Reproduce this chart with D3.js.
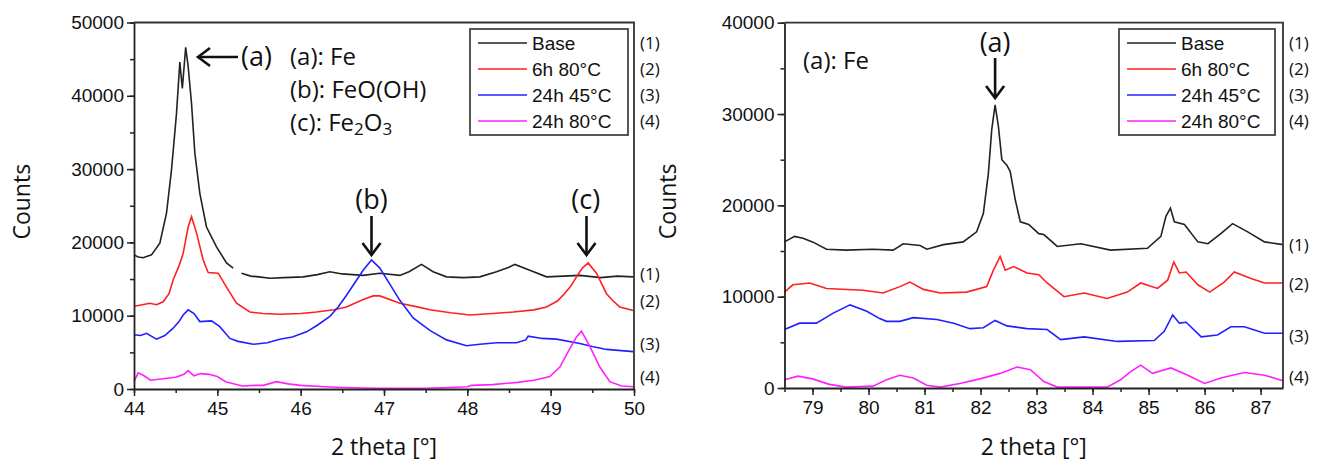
<!DOCTYPE html>
<html>
<head>
<meta charset="utf-8">
<script src="https://cdn.jsdelivr.net/npm/d3@7"></script>
<style>
  body { margin: 0; background: #fff; }
  svg { display: block; }
  .tick text { font-family: "Liberation Sans", Arial, sans-serif; font-size: 19px; fill: #111; }
  .lbl { font-family: "Open Sans", sans-serif; fill: #111; }
</style>
</head>
<body>
<svg id="chart" width="1320" height="462"></svg>
<script>
// ---- data: [2 theta, counts] ----
// left panel 44-50
var baseLeft = [[44.0,18300],[44.05,18000],[44.11,17900],[44.21,18300],[44.31,19900],[44.39,24000],[44.45,29900],[44.51,37600],[44.55,44600],
  [44.58,41000],[44.62,46600],[44.65,44000],[44.69,39000],[44.73,32200],[44.79,26700],[44.87,22100],[44.99,19400],[45.11,17200],[45.19,16500],
  null,[45.29,15800],[45.4,15400],[45.5,15300],[45.63,15100],[45.8,15200],[46.03,15300],[46.2,15600],[46.35,16000],[46.5,15700],[46.75,15500],
  [46.95,15800],[47.19,15500],[47.3,16000],[47.45,17000],[47.59,16000],[47.75,15300],[47.95,15200],[48.15,15300],[48.35,16000],[48.5,16600],
  [48.57,17000],[48.75,16200],[48.95,15300],[49.15,15400],[49.35,15500],[49.6,15200],[49.8,15400],[49.99,15300]];
var h6Left = [[44.0,11300],[44.1,11500],[44.19,11700],[44.27,11500],[44.35,11900],[44.42,13000],[44.47,14900],[44.54,16800],[44.59,18500],
  [44.65,22100],[44.69,23500],[44.75,21300],[44.83,17600],[44.89,15900],[45.01,15800],[45.11,13900],[45.23,11700],[45.39,10500],[45.55,10300],
  [45.75,10200],[46.0,10300],[46.19,10500],[46.4,10800],[46.55,11200],[46.75,12200],[46.87,12700],[46.95,12700],[47.19,11700],[47.4,11200],
  [47.55,10800],[47.8,10400],[48.03,10100],[48.3,10300],[48.55,10500],[48.8,10800],[48.95,11200],[49.08,12000],[49.15,12800],[49.24,14000],
  [49.31,15300],[49.38,16500],[49.45,17200],[49.55,15800],[49.67,13000],[49.75,12000],[49.83,11200],[49.99,10700]];
var h24t45Left = [[44.0,7400],[44.08,7300],[44.15,7600],[44.27,6800],[44.37,7300],[44.47,8300],[44.54,9200],[44.59,10100],[44.65,10800],
  [44.72,10300],[44.79,9200],[44.93,9300],[45.03,8500],[45.15,6900],[45.25,6500],[45.43,6100],[45.6,6300],[45.75,6800],[45.9,7100],
  [46.07,7800],[46.2,8700],[46.35,9900],[46.45,11200],[46.55,12800],[46.65,14500],[46.75,16200],[46.85,17600],[46.95,16500],[47.07,14300],
  [47.19,12100],[47.35,9700],[47.55,8000],[47.75,6700],[47.99,5900],[48.15,6100],[48.35,6300],[48.59,6300],[48.7,6700],[48.73,7200],
  [48.9,6900],[49.07,6800],[49.35,6200],[49.5,5800],[49.67,5400],[49.99,5100]];
var h24t80Left = [[44.0,1000],[44.05,2200],[44.12,1800],[44.2,1200],[44.35,1400],[44.5,1600],[44.6,2000],[44.65,2500],[44.72,1800],
  [44.8,2100],[44.9,2000],[45.0,1700],[45.1,1000],[45.3,400],[45.45,500],[45.55,500],[45.71,1000],[45.85,700],[46.0,500],[46.3,300],
  [46.5,200],[46.9,100],[47.2,100],[47.5,100],[47.8,200],[48.0,300],[48.05,500],[48.3,600],[48.6,900],[48.8,1200],[48.99,1700],
  [49.11,3000],[49.21,5100],[49.31,7100],[49.37,7900],[49.47,5800],[49.59,3000],[49.71,1000],[49.85,400],[50.0,300]];

// right panel 78.5-87.4
var baseRight = [[78.5,16000],[78.68,16600],[78.83,16400],[79.0,16000],[79.25,15200],[79.6,15100],[80.08,15200],[80.44,15100],[80.62,15800],
  [80.92,15600],[81.04,15200],[81.34,15700],[81.69,16000],[81.93,17100],[82.05,19100],[82.14,23500],[82.2,28300],[82.26,31000],[82.32,28600],
  [82.38,25000],[82.47,24400],[82.53,23700],[82.62,20600],[82.71,18200],[82.86,17900],[83.04,16900],[83.13,16800],[83.37,15500],[83.79,15800],
  [84.32,15100],[84.98,15300],[85.22,16600],[85.31,18800],[85.39,19700],[85.46,18200],[85.64,17900],[85.88,16000],[86.06,15800],[86.29,16900],
  [86.5,18000],[86.77,17100],[87.07,16000],[87.4,15700]];
var h6Right = [[78.5,10500],[78.65,11300],[78.95,11500],[79.25,10900],[79.9,10700],[80.26,10400],[80.56,11100],[80.74,11600],[80.98,10800],
  [81.28,10400],[81.75,10500],[82.11,11100],[82.23,12900],[82.35,14400],[82.44,12900],[82.59,13300],[82.83,12600],[83.04,12400],[83.19,11500],
  [83.49,10000],[83.85,10400],[84.26,9800],[84.62,10500],[84.86,11500],[85.16,10900],[85.34,11800],[85.45,13800],[85.55,12600],[85.67,12700],
  [85.88,11300],[86.09,10500],[86.35,11600],[86.53,12700],[86.83,12000],[87.07,11500],[87.4,11500]];
var h24t45Right = [[78.5,6400],[78.77,7100],[79.07,7100],[79.37,8200],[79.67,9100],[79.97,8400],[80.2,7600],[80.32,7300],[80.56,7300],
  [80.8,7700],[81.22,7500],[81.52,7100],[81.81,6500],[82.05,6600],[82.26,7400],[82.47,6800],[82.83,6500],[83.19,6400],[83.43,5300],
  [83.85,5600],[84.44,5100],[85.1,5200],[85.28,6200],[85.43,8000],[85.55,7100],[85.67,7200],[85.94,5600],[86.23,5800],[86.47,6700],
  [86.71,6700],[87.07,6000],[87.4,6000]];
var h24t80Right = [[78.5,900],[78.74,1300],[79.0,1000],[79.3,400],[79.6,100],[80.08,200],[80.32,900],[80.56,1400],[80.8,1100],[81.04,300],
  [81.28,100],[81.63,500],[81.99,1000],[82.35,1600],[82.65,2300],[82.89,2000],[83.13,700],[83.37,100],[83.79,100],[84.26,100],[84.5,900],
  [84.68,1800],[84.86,2500],[85.07,1600],[85.4,2200],[85.7,1400],[86.0,500],[86.29,1100],[86.71,1700],[87.07,1400],[87.4,800]];

var seriesNames = ["Base", "6h 80°C", "24h 45°C", "24h 80°C"];
var seriesColors = ["#222222", "#ff2020", "#2020ff", "#ff20ff"];
var curveNums = ["(1)", "(2)", "(3)", "(4)"];

var svg = d3.select("#chart");

function drawPanel(p) {
    var g = svg.append("g");
    var x = d3.scaleLinear().domain(p.xDomain).range([p.left, p.right]);
    var y = d3.scaleLinear().domain(p.yDomain).range([p.bottom, p.top]);

    // curves
    var line = d3.line()
        .defined(function(d) { return d != null; })
        .x(function(d) { return x(d[0]); })
        .y(function(d) { return y(d[1]); });
    p.series.forEach(function(s, i) {
        g.append("path").datum(s)
            .attr("d", line)
            .attr("fill", "none")
            .attr("stroke", seriesColors[i])
            .attr("stroke-width", 1.6);
    });

    // frame: top + right
    g.append("path")
        .attr("d", "M" + p.left + "," + p.top + "H" + p.right + "V" + p.bottom)
        .attr("fill", "none").attr("stroke", "#333").attr("stroke-width", 1.8);

    // axes with minor ticks
    var xMinor = d3.range(Math.ceil(p.xDomain[0] * 2) / 2, p.xDomain[1] + 0.01, 0.5);
    g.append("g").attr("transform", "translate(0," + p.bottom + ")")
        .call(d3.axisBottom(x).tickValues(xMinor).tickSize(4).tickFormat(""))
        .call(function(a) { a.select(".domain").remove(); });
    g.append("g").attr("transform", "translate(0," + p.bottom + ")")
        .call(d3.axisBottom(x).tickValues(p.xTicks).tickSize(7).tickSizeOuter(0).tickPadding(6).tickFormat(d3.format("d")));

    var yMinor = d3.range(0, p.yDomain[1] + 1, 5000);
    g.append("g").attr("transform", "translate(" + p.left + ",0)")
        .call(d3.axisLeft(y).tickValues(yMinor).tickSize(4).tickFormat(""))
        .call(function(a) { a.select(".domain").remove(); });
    g.append("g").attr("transform", "translate(" + p.left + ",0)")
        .call(d3.axisLeft(y).tickValues(d3.range(0, p.yDomain[1] + 1, 10000)).tickSize(7).tickSizeOuter(0).tickPadding(3).tickFormat(d3.format("d")));

    g.selectAll(".domain").attr("stroke", "#222").attr("stroke-width", 1.8);
    g.selectAll(".tick line").attr("stroke", "#222").attr("stroke-width", 1.5);

    // axis titles
    g.append("text").attr("class", "lbl")
        .attr("transform", "translate(" + p.yTitleX + "," + ((p.top + p.bottom) / 2 - 4) + ") rotate(-90)")
        .attr("text-anchor", "middle").attr("dy", "0.35em")
        .style("font-size", "23px").text("Counts");
    g.append("text").attr("class", "lbl")
        .attr("x", (p.left + p.right) / 2).attr("y", 447)
        .attr("text-anchor", "middle").attr("dy", "0.35em")
        .style("font-size", "23px").text("2 theta [°]");

    // legend
    var lg = g.append("g");
    lg.append("rect")
        .attr("x", p.legend[0]).attr("y", 29)
        .attr("width", p.legend[1] - p.legend[0]).attr("height", 106)
        .attr("fill", "#fff").attr("stroke", "#444").attr("stroke-width", 1.8);
    seriesNames.forEach(function(n, i) {
        var ly = 43 + i * 26;
        lg.append("line")
            .attr("x1", p.legend[0] + 8).attr("x2", p.legend[0] + 57)
            .attr("y1", ly).attr("y2", ly)
            .attr("stroke", seriesColors[i]).attr("stroke-width", 1.6);
        lg.append("text")
            .attr("x", p.legend[0] + 62).attr("y", ly).attr("dy", "0.35em")
            .style("font-family", "Liberation Sans, Arial, sans-serif").style("font-size", "19px").style("fill", "#111")
            .text(n);
        lg.append("text").attr("class", "lbl")
            .attr("x", p.right + 6).attr("y", ly).attr("dy", "0.35em")
            .style("font-size", "17px").text(curveNums[i]);
    });

    // curve numbers on the right
    p.numY.forEach(function(v, i) {
        g.append("text").attr("class", "lbl")
            .attr("x", p.right + 6).attr("y", y(v)).attr("dy", "0.35em")
            .style("font-size", "17px").text(curveNums[i]);
    });

    return {g: g, x: x, y: y};
}

function arrowDown(g, x0, y0, y1) {
    g.append("line").attr("x1", x0).attr("x2", x0).attr("y1", y0).attr("y2", y1)
        .attr("stroke", "#111").attr("stroke-width", 2.6);
    g.append("path").attr("d", "M" + (x0 - 9) + "," + (y1 - 12) + "L" + x0 + "," + y1 + "L" + (x0 + 9) + "," + (y1 - 12))
        .attr("fill", "none").attr("stroke", "#111").attr("stroke-width", 2.6);
}

function label(g, x0, y0, txt, size, anchor) {
    return g.append("text").attr("class", "lbl")
        .attr("x", x0).attr("y", y0).attr("dy", "0.35em")
        .attr("text-anchor", anchor || "start")
        .style("font-size", size + "px").text(txt);
}

// ---- left panel ----
var L = drawPanel({
    left: 134, right: 634, top: 22.5, bottom: 389,
    xDomain: [44, 50], yDomain: [0, 50000], xTicks: d3.range(44, 51, 1),
    series: [baseLeft, h6Left, h24t45Left, h24t80Left],
    numY: [15700, 12000, 6200, 1600],
    legend: [470, 628], yTitleX: 22
});
// (a) arrow pointing left at the Fe peak
L.g.append("line").attr("x1", 238).attr("x2", 198).attr("y1", 57).attr("y2", 57)
    .attr("stroke", "#111").attr("stroke-width", 2.6);
L.g.append("path").attr("d", "M210,48L198,57L210,66").attr("fill", "none").attr("stroke", "#111").attr("stroke-width", 2.6);
label(L.g, 241, 57, "(a)", 27);
label(L.g, 290, 57, "(a): Fe", 24);
label(L.g, 290, 90, "(b): FeO(OH)", 24);
var c = label(L.g, 290, 123, "(c): Fe", 24);
c.append("tspan").attr("baseline-shift", "-25%").style("font-size", "17px").text("2");
c.append("tspan").text("O");
c.append("tspan").attr("baseline-shift", "-25%").style("font-size", "17px").text("3");
label(L.g, L.x(46.85), 200, "(b)", 27, "middle");
arrowDown(L.g, L.x(46.85), 216, 255);
label(L.g, L.x(49.42), 200, "(c)", 27, "middle");
arrowDown(L.g, L.x(49.43), 216, 255);

// ---- right panel ----
var R = drawPanel({
    left: 784.5, right: 1283, top: 22.7, bottom: 388,
    xDomain: [78.5, 87.4], yDomain: [0, 40000], xTicks: d3.range(79, 88, 1),
    series: [baseRight, h6Right, h24t45Right, h24t80Right],
    numY: [15700, 11400, 5700, 1200],
    legend: [1119, 1275], yTitleX: 668
});
label(R.g, 803, 61, "(a): Fe", 24);
label(R.g, R.x(82.26), 43, "(a)", 27, "middle");
arrowDown(R.g, R.x(82.26), 58, 98);
</script>
</body>
</html>
